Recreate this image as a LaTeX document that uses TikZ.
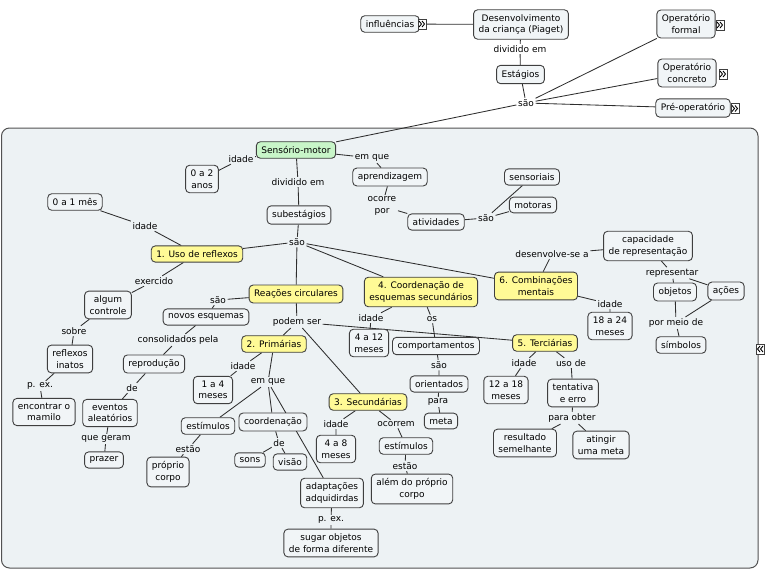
\documentclass[tikz,border=0pt]{standalone}
\usepackage{fontspec}
\setmainfont{DejaVu Sans}
\definecolor{panelfill}{HTML}{EDF2F4}
\definecolor{nodefill}{HTML}{F1F5F7}
\definecolor{boxline}{HTML}{3F3F3F}
\definecolor{linecol}{HTML}{2E2E2E}
\definecolor{yel}{HTML}{FFFA96}
\definecolor{grn}{HTML}{C8F5C8}
\newcommand{\dfont}{\fontsize{9}{11.5}\selectfont}
\pgfdeclarelayer{panel}
\pgfdeclarelayer{lines}
\pgfsetlayers{panel,lines,main}
\begin{document}
\begin{tikzpicture}[x=1pt,y=-1pt,
  box/.style={draw=boxline, fill=nodefill, rounded corners=4pt, line width=0.9pt, align=center, inner xsep=5pt, inner ysep=4.6pt, font=\dfont},
  ybox/.style={box, fill=yel},
  gbox/.style={box, fill=grn},
  lab/.style={inner sep=1.5pt, align=center, font=\dfont},
  conn/.style={draw=linecol, line width=0.85pt},
  chevr/.pic={\draw[draw=boxline, fill=white, line width=0.5pt] (-4,-5) rectangle (4,5);
    \draw[line width=0.9pt, line join=miter] (-3,-3) -- (-0.5,0) -- (-3,3) (0,-3) -- (2.5,0) -- (0,3);}]
\useasboundingbox (0,0) rectangle (768,578);
\begin{pgfonlayer}{panel}
\draw[draw=boxline!90, fill=panelfill, line width=1pt, rounded corners=8pt] (1.5,128) rectangle (758,568);
\end{pgfonlayer}

% top part
\node[box] (infl) at (390,24) {influências};
\node[box] (desenv) at (521,24.5) {Desenvolvimento\\da criança (Piaget)};
\node[lab] (ldiv1) at (520,49) {dividido em};
\node[box] (estagios) at (520.5,74.5) {Estágios};
\node[lab] (lsao0) at (526,103) {são};
\node[box] (opf) at (686,24) {Operatório\\formal};
\node[box] (opc) at (687,73) {Operatório\\concreto};
\node[box] (preop) at (693,108) {Pré-operatório};
\pic at (422,24) {chevr};
\pic at (720,25) {chevr};
\pic at (723,74) {chevr};
\pic at (735,108.5) {chevr};
\pic[xscale=-1] at (760,349) {chevr};

% panel content
\node[gbox] (sens) at (296,150) {Sensório-motor};
\node[lab] (lid0) at (241,159) {idade};
\node[box] (anos02) at (202,179) {0 a 2\\anos};
\node[lab] (lemq0) at (372,158) {em que};
\node[box] (aprend) at (390,177) {aprendizagem};
\node[lab] (locorre) at (382,206) {ocorre\\por};
\node[box] (ativ) at (436,222) {atividades};
\node[lab] (lsao1) at (486,218) {são};
\node[box] (sensoriais) at (532,177) {sensoriais};
\node[box] (motoras) at (533,205) {motoras};
\node[lab] (ldiv2) at (298,182) {dividido em};
\node[box] (subest) at (299,215) {subestágios};
\node[lab] (lsao2) at (297,242) {são};

\node[ybox] (uso) at (197,254) {1. Uso de reflexos};
\node[lab] (lid1) at (145,226) {idade};
\node[box] (mes01) at (75,202) {0 a 1 mês};
\node[lab] (lexerc) at (154,281) {exercido};
\node[box] (algum) at (108,305) {algum\\controle};
\node[lab] (lsobre) at (74,331) {sobre};
\node[box] (reflexos) at (70,359) {reflexos\\inatos};
\node[lab] (lpex1) at (40,386) {p. ex.};
\node[box] (mamilo) at (44,412) {encontrar o\\mamilo};

\node[ybox] (reac) at (296,294) {Reações circulares};
\node[lab] (lsao3) at (218,300) {são};
\node[box] (novos) at (206,317) {novos esquemas};
\node[lab] (lconsol) at (178,340) {consolidados pela};
\node[box] (reprod) at (154,364) {reprodução};
\node[lab] (lde1) at (132,388) {de};
\node[box] (eventos) at (110,413) {eventos\\aleatórios};
\node[lab] (lgeram) at (106,439) {que geram};
\node[box] (prazer) at (104,460) {prazer};
\node[lab] (lpodem) at (297,322) {podem ser};

\node[ybox] (prim) at (274,344) {2. Primárias};
\node[lab] (lid2) at (243,366) {idade};
\node[box] (mes14) at (213,390) {1 a 4\\meses};
\node[lab] (lemq2) at (268,382) {em que};
\node[box] (estim1) at (208,426) {estímulos};
\node[lab] (lestao1) at (188,449) {estão};
\node[box] (proprio) at (168,472) {próprio\\corpo};
\node[box] (coordn) at (273,422) {coordenação};
\node[lab] (lde2) at (279,443) {de};
\node[box] (sons) at (250,460) {sons};
\node[box] (visao) at (290,462) {visão};
\node[box] (adapt) at (332,493) {adaptações\\adquidirdas};
\node[lab] (lpex2) at (331,520) {p. ex.};
\node[box] (sugar) at (331,543) {sugar objetos\\de forma diferente};

\node[ybox] (sec) at (368,402) {3. Secundárias};
\node[lab] (lid3) at (336,424) {idade};
\node[box] (mes48) at (336,449) {4 a 8\\meses};
\node[lab] (locorrem) at (396,424) {ocorrem};
\node[box] (estim2) at (406,446) {estímulos};
\node[lab] (lestao2) at (405,466) {estão};
\node[box] (alem) at (412,489) {além do próprio\\corpo};

\node[ybox] (coord4) at (421,292) {4. Coordenação de\\esquemas secundários};
\node[lab] (lid4) at (371,318) {idade};
\node[box] (mes412) at (369,343) {4 a 12\\meses};
\node[lab] (los) at (432,319) {os};
\node[box] (comport) at (436,346) {comportamentos};
\node[lab] (lsao4) at (439,365) {são};
\node[box] (orient) at (439,384) {orientados};
\node[lab] (lpara) at (438,402) {para};
\node[box] (meta) at (441,421) {meta};

\node[ybox] (terc) at (545,343) {5. Terciárias};
\node[lab] (lid5) at (524,363) {idade};
\node[box] (mes1218) at (506,390) {12 a 18\\meses};
\node[lab] (luso) at (571,363) {uso de};
\node[box] (tent) at (573,393) {tentativa\\e erro};
\node[lab] (lpobter) at (572,418) {para obter};
\node[box] (result) at (525,443) {resultado\\semelhante};
\node[box] (ating) at (601,445) {atingir\\uma meta};

\node[ybox] (comb6) at (536,286) {6. Combinações\\mentais};
\node[lab] (ldesenv) at (552,254) {desenvolve-se a};
\node[box] (capac) at (648,246) {capacidade\\de representação};
\node[lab] (lrepr) at (672,273) {representar};
\node[box] (objetos) at (675,292) {objetos};
\node[box] (acoes) at (726,291) {ações};
\node[lab] (lmeio) at (676,323) {por meio de};
\node[box] (simb) at (681,345) {símbolos};
\node[lab] (lid6) at (610,304) {idade};
\node[box] (mes1824) at (610,326) {18 a 24\\meses};

\begin{pgfonlayer}{lines}
\draw[conn] (infl) -- (desenv);
\draw[conn] (desenv) -- (ldiv1) -- (estagios) -- (lsao0);
\draw[conn] (lsao0) -- (opf);
\draw[conn] (lsao0) -- (opc);
\draw[conn] (lsao0) -- (preop);
\draw[conn] (lsao0) -- (sens);

\draw[conn] (sens) -- (lid0) -- (anos02);
\draw[conn] (sens) -- (lemq0) -- (aprend) -- (locorre) -- (ativ) -- (lsao1);
\draw[conn] (lsao1) -- (sensoriais);
\draw[conn] (lsao1) -- (motoras);
\draw[conn] (sens) -- (ldiv2) -- (subest) -- (lsao2);
\draw[conn] (lsao2) -- (uso);
\draw[conn] (lsao2) -- (reac);
\draw[conn] (lsao2) -- (coord4);
\draw[conn] (lsao2) -- (comb6);

\draw[conn] (mes01) -- (lid1) -- (uso);
\draw[conn] (uso) -- (lexerc) -- (algum) -- (lsobre) -- (reflexos) -- (lpex1) -- (mamilo);

\draw[conn] (reac) -- (lsao3) -- (novos) -- (lconsol) -- (reprod) -- (lde1) -- (eventos) -- (lgeram) -- (prazer);
\draw[conn] (reac) -- (lpodem);
\draw[conn] (lpodem) -- (prim);
\draw[conn] (lpodem) -- (sec);
\draw[conn] (lpodem) -- (terc);

\draw[conn] (prim) -- (lid2) -- (mes14);
\draw[conn] (prim) -- (lemq2);
\draw[conn] (lemq2) -- (estim1);
\draw[conn] (lemq2) -- (coordn);
\draw[conn] (lemq2) -- (adapt);
\draw[conn] (estim1) -- (lestao1) -- (proprio);
\draw[conn] (coordn) -- (lde2);
\draw[conn] (lde2) -- (sons);
\draw[conn] (lde2) -- (visao);
\draw[conn] (adapt) -- (lpex2) -- (sugar);

\draw[conn] (sec) -- (lid3) -- (mes48);
\draw[conn] (sec) -- (locorrem) -- (estim2) -- (lestao2) -- (alem);

\draw[conn] (coord4) -- (lid4) -- (mes412);
\draw[conn] (coord4) -- (los) -- (comport) -- (lsao4) -- (orient) -- (lpara) -- (meta);

\draw[conn] (terc) -- (lid5) -- (mes1218);
\draw[conn] (terc) -- (luso) -- (tent) -- (lpobter);
\draw[conn] (lpobter) -- (result);
\draw[conn] (lpobter) -- (ating);

\draw[conn] (comb6) -- (ldesenv) -- (capac) -- (lrepr);
\draw[conn] (lrepr) -- (objetos);
\draw[conn] (lrepr) -- (acoes);
\draw[conn] (objetos) -- (lmeio);
\draw[conn] (acoes) -- (lmeio);
\draw[conn] (lmeio) -- (simb);
\draw[conn] (comb6) -- (lid6) -- (mes1824);
\end{pgfonlayer}
\end{tikzpicture}
\end{document}
